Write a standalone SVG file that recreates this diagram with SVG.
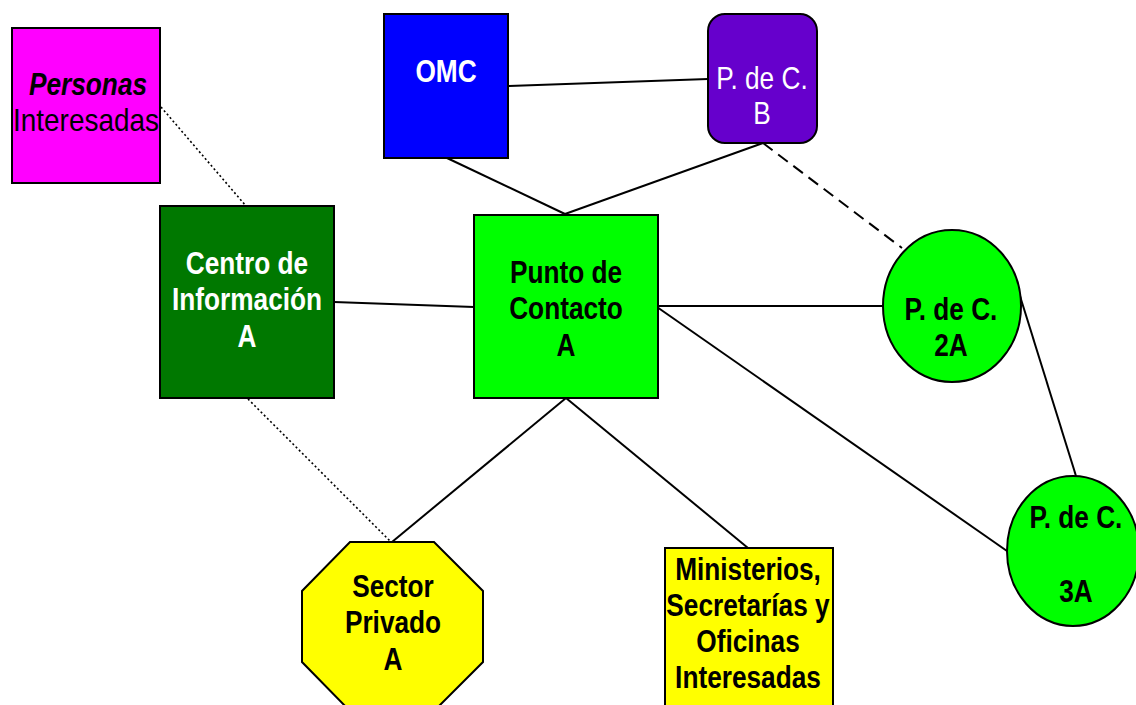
<svg xmlns="http://www.w3.org/2000/svg" width="1136" height="705" viewBox="0 0 1136 705">
<style>
.shape{stroke:#000;stroke-width:2}
.t{font-family:"Liberation Sans","Arial",sans-serif;font-size:32px;font-weight:bold;text-anchor:middle}
.w{fill:#fff}
.k{fill:#000}
.reg{font-weight:normal}
.c{stroke:#000;stroke-width:2;fill:none}
.dash{stroke-dasharray:12 7}
.dot{stroke-width:1.6;stroke-dasharray:2 2.5}
</style>
<rect width="1136" height="705" fill="#fff"/>
<g id="connectors">
<line class="c" x1="509" y1="86" x2="708" y2="79"/>
<line class="c" x1="447" y1="158" x2="565" y2="214"/>
<line class="c" x1="763" y1="143" x2="565" y2="214"/>
<line class="c dash" x1="763" y1="143" x2="902" y2="248"/>
<line class="c" x1="334" y1="302" x2="474" y2="307"/>
<line class="c" x1="657" y1="306" x2="883" y2="306"/>
<line class="c" x1="657" y1="307" x2="1007" y2="551"/>
<line class="c" x1="1020" y1="296" x2="1076" y2="476"/>
<line class="c" x1="566" y1="398" x2="392" y2="542"/>
<line class="c" x1="566" y1="398" x2="748" y2="548"/>
<line class="c dot" x1="161" y1="107" x2="246" y2="206"/>
<line class="c dot" x1="248" y1="399" x2="392" y2="543"/>
</g>
<g id="personas">
<rect class="shape" x="12" y="28" width="148" height="155" fill="#FF00FF"/>
<g transform="translate(88 0) scale(0.82 1)">
<text class="t k" x="0" y="95" font-size="29" font-style="italic">Personas</text>
</g>
<text class="t k reg" x="86" y="131" font-size="40" textLength="146" lengthAdjust="spacingAndGlyphs">Interesadas</text>
</g>
<g id="omc">
<rect class="shape" x="384" y="14" width="124" height="144" fill="#0000FF"/>
<g transform="translate(446 0) scale(0.82 1)">
<text class="t w" x="0" y="82" font-size="30">OMC</text>
</g>
</g>
<g id="pdcB">
<rect class="shape" x="708" y="14" width="109" height="129" rx="17" fill="#6600CC"/>
<g transform="translate(762 0) scale(0.82 1)">
<text class="t w reg" x="0" y="89" font-size="31">P. de C.</text>
<text class="t w reg" x="0" y="124" font-size="31">B</text>
</g>
</g>
<g id="centro">
<rect class="shape" x="160" y="206" width="174" height="192" fill="#007800"/>
<g transform="translate(247 0) scale(0.82 1)">
<text class="t w" x="0" y="274">Centro de</text>
<text class="t w" x="0" y="310">Información</text>
<text class="t w" x="0" y="347">A</text>
</g>
</g>
<g id="punto">
<rect class="shape" x="474" y="215" width="184" height="183" fill="#00FF00"/>
<g transform="translate(566 0) scale(0.82 1)">
<text class="t k" x="0" y="283">Punto de</text>
<text class="t k" x="0" y="319">Contacto</text>
<text class="t k" x="0" y="356">A</text>
</g>
</g>
<g id="pdc2A">
<ellipse class="shape" cx="952" cy="306" rx="69" ry="76" fill="#00FF00"/>
<g transform="translate(951 0) scale(0.82 1)">
<text class="t k" x="0" y="320" font-size="30">P. de C.</text>
<text class="t k" x="0" y="356" font-size="30">2A</text>
</g>
</g>
<g id="pdc3A">
<ellipse class="shape" cx="1073" cy="551" rx="66" ry="75" fill="#00FF00"/>
<g transform="translate(1076 0) scale(0.82 1)">
<text class="t k" x="0" y="528" font-size="30">P. de C.</text>
<text class="t k" x="0" y="602" font-size="30">3A</text>
</g>
</g>
<g id="sector">
<polygon class="shape" points="350,542 434,542 483,591 483,662 434,711 350,711 302,662 302,591" fill="#FFFF00"/>
<g transform="translate(393 0) scale(0.82 1)">
<text class="t k" x="0" y="597">Sector</text>
<text class="t k" x="0" y="633">Privado</text>
<text class="t k" x="0" y="670">A</text>
</g>
</g>
<g id="ministerios">
<rect class="shape" x="665" y="548" width="168" height="170" fill="#FFFF00"/>
<g transform="translate(748 0) scale(0.82 1)">
<text class="t k" x="0" y="580">Ministerios,</text>
<text class="t k" x="0" y="616">Secretarías y</text>
<text class="t k" x="0" y="652">Oficinas</text>
<text class="t k" x="0" y="688">Interesadas</text>
</g>
</g>
</svg>
